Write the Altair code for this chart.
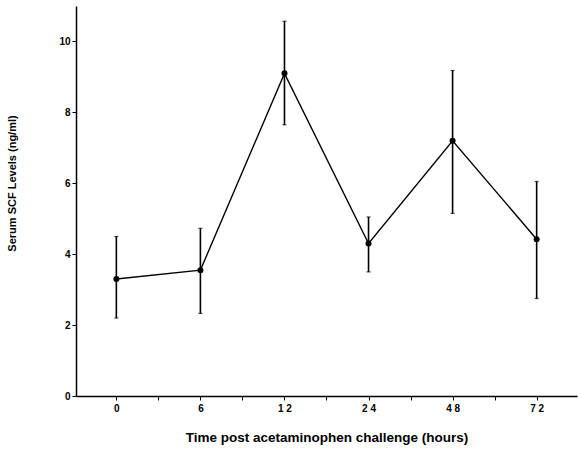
import altair as alt
import pandas as pd

times = ["0", "6", "12", "24", "48", "72"]
means = [3.3, 3.55, 9.1, 4.3, 7.2, 4.42]
upper = [4.5, 4.73, 10.57, 5.05, 9.18, 6.05]
lower = [2.2, 2.33, 7.65, 3.5, 5.15, 2.75]

df = pd.DataFrame({
    "idx": list(range(len(times))),
    "time": times,
    "mean": means,
    "upper": upper,
    "lower": lower,
})

label_arr = "[" + ",".join("'" + t + "'" for t in times) + "]"
x_label_expr = (
    "datum.value % 1 == 0 ? join(split(" + label_arr + "[datum.value], ''), ' ') : ''"
)

FONT = "Liberation Sans"

x_enc = alt.X(
    "idx:Q",
    scale=alt.Scale(domain=[-0.48, 5.48], nice=False, zero=False),
    axis=alt.Axis(
        title="Time post acetaminophen challenge (hours)",
        values=[i * 0.5 for i in range(0, 11)],
        labelExpr=x_label_expr,
        grid=False,
        tickSize=4,
        labelPadding=3,
        titlePadding=17,
        labelFontSize=10,
        labelFontWeight="bold",
        titleFontSize=13.5,
        titleFontWeight="bold",
        labelFont=FONT,
        titleFont=FONT,
        domainColor="black",
        tickColor="black",
        labelColor="black",
        titleColor="black",
        domainWidth=1.5,
        labelFlush=False,
    ),
)

y_enc = alt.Y(
    "mean:Q",
    scale=alt.Scale(domain=[0, 11], nice=False),
    axis=alt.Axis(
        title="Serum SCF Levels (ng/ml)",
        values=list(range(0, 12)),
        labelExpr="datum.value % 2 == 0 && datum.value <= 10 ? datum.label : ''",
        grid=False,
        tickSize=4,
        labelPadding=2,
        labelFontSize=10,
        labelFontWeight="bold",
        titleFontSize=11,
        titleFontWeight="bold",
        labelFont=FONT,
        titleFont=FONT,
        titleX=-59,
        titleY=177,
        domainColor="black",
        tickColor="black",
        labelColor="black",
        titleColor="black",
        domainWidth=1.5,
        labelFlush=False,
    ),
)

base = alt.Chart(df)

line = base.mark_line(color="black", strokeWidth=1.4).encode(x=x_enc, y=y_enc)
pts = base.mark_circle(color="black", opacity=1, size=36).encode(x=x_enc, y=y_enc)
bars = base.mark_rule(color="black", strokeWidth=1.6).encode(
    x=x_enc, y=alt.Y("lower:Q"), y2="upper:Q"
)
cap_hi = base.mark_tick(color="black", size=4, thickness=1.2, orient="horizontal").encode(
    x=x_enc, y=alt.Y("upper:Q")
)
cap_lo = base.mark_tick(color="black", size=4, thickness=1.2, orient="horizontal").encode(
    x=x_enc, y=alt.Y("lower:Q")
)

chart = (
    alt.layer(bars, cap_hi, cap_lo, line, pts)
    .properties(
        width=501,
        height=390,
        autosize=alt.AutoSizeParams(type="none"),
        padding={"left": 76, "top": 6, "right": 1, "bottom": 57},
        background="white",
    )
    .configure_view(stroke=None)
)

chart.save("out.html", embed_options={"renderer": "svg", "actions": False})
